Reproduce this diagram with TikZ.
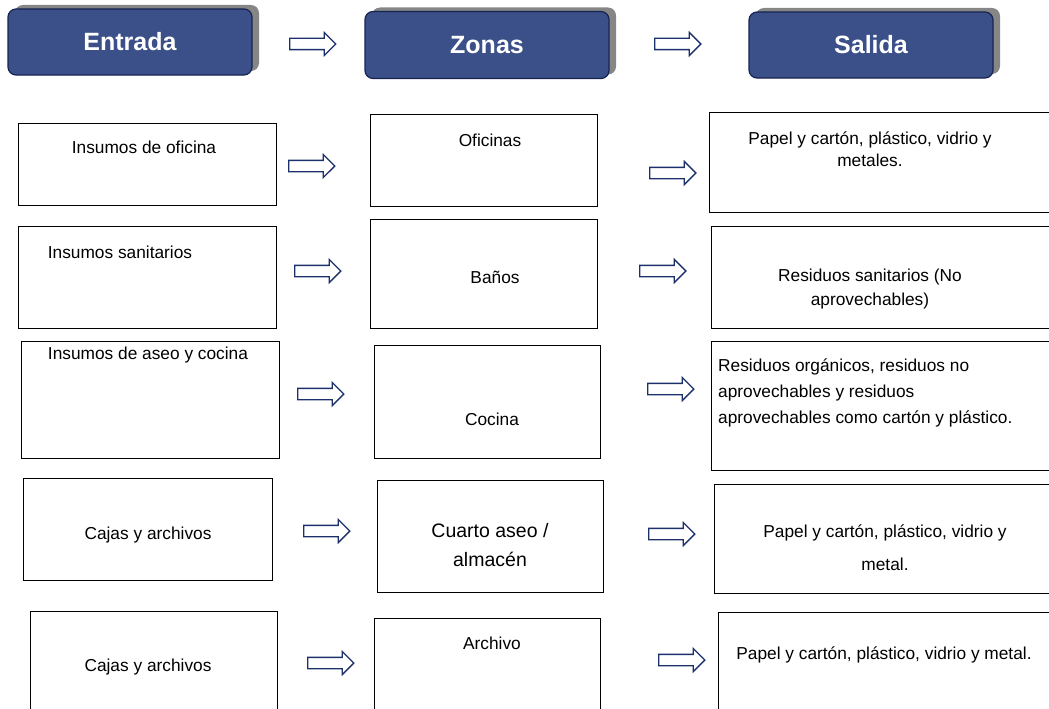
\documentclass[tikz,border=0pt]{standalone}
\usepackage{fontspec}
\setmainfont{Liberation Sans}
\usetikzlibrary{shapes.arrows,shadows}
\definecolor{headblue}{RGB}{59,80,136}
\definecolor{headline}{RGB}{22,36,82}
\definecolor{arrowline}{RGB}{28,48,108}
\tikzset{
  head/.style={draw=headline, line width=1.2pt, fill=headblue, rounded corners=8pt,
    minimum width=244pt, minimum height=66pt, text=white,
    font=\bfseries\fontsize{25}{30}\selectfont,
    general shadow={fill=gray!95, draw=none, shadow xshift=7pt, shadow yshift=4pt}},
  box/.style={draw, rectangle, line width=1.4pt, anchor=north west, inner sep=0pt},
  txt/.style={font=\fontsize{17.3}{22}\selectfont, inner sep=0pt},
  flecha/.style={draw=arrowline, fill=white, line width=1.3pt, shape=single arrow,
    minimum height=46pt, inner xsep=0pt, inner ysep=5pt, single arrow head extend=6pt,
    single arrow tip angle=90}
}
\begin{document}
\begin{tikzpicture}[x=1pt, y=-1pt]
            \useasboundingbox (0,0) rectangle (1049,709);
            \clip (0,0) rectangle (1049,709);
            % header blocks
            \node[head] (entrada) at (130,42) {Entrada};
            \node[head, minimum height=67pt] (zonas) at (487,45) {Zonas};
            \node[head] (salida) at (871,45) {Salida};
            \node[flecha] (h1) at (310,44) {};
            \node[flecha] (h2) at (675,44) {};

            % row 1
            \node[box, minimum width=258pt, minimum height=82pt] (in1) at (18,123) {};
            \node[box, minimum width=227pt, minimum height=92pt] (zo1) at (370,114) {};
            \node[box, minimum width=360pt, minimum height=100pt] (sa1) at (709,112) {};
            \node[txt] (tin1) at (144,147) {Insumos de oficina};
            \node[txt] (tzo1) at (490,140) {Oficinas};
            \node[txt, align=center] (tsa1) at (870,149) {Papel y cartón, plástico, vidrio y\\metales.};
            \node[flecha] (r1a) at (309,166) {};
            \node[flecha] (r1b) at (670,173) {};

            % row 2
            \node[box, minimum width=258pt, minimum height=102pt] (in2) at (18,226) {};
            \node[box, minimum width=227pt, minimum height=109pt] (zo2) at (370,219) {};
            \node[box, minimum width=360pt, minimum height=102pt] (sa2) at (711,226) {};
            \node[txt] (tin2) at (120,252) {Insumos sanitarios};
            \node[txt] (tzo2) at (495,277) {Baños};
            \node[txt, align=center, font=\fontsize{17.3}{24}\selectfont] (tsa2) at (870,289) {Residuos sanitarios (No\\aprovechables)};
            \node[flecha] (r2a) at (315,271) {};
            \node[flecha] (r2b) at (660,271) {};

            % row 3
            \node[box, minimum width=258pt, minimum height=117pt] (in3) at (21,341) {};
            \node[box, minimum width=226pt, minimum height=113pt] (zo3) at (374,345) {};
            \node[box, minimum width=360pt, minimum height=129pt] (sa3) at (711,341) {};
            \node[txt] (tin3) at (148,355) {Insumos de aseo y cocina};
            \node[txt] (tzo3) at (492,419) {Cocina};
            \node[txt, align=left, anchor=west, font=\fontsize{17.3}{26}\selectfont] (tsa3) at (718,393) {Residuos orgánicos, residuos no\\aprovechables y residuos\\aprovechables como cartón y plástico.};
            \node[flecha] (r3a) at (318,394) {};
            \node[flecha] (r3b) at (668,389) {};

            % row 4
            \node[box, minimum width=249pt, minimum height=102pt] (in4) at (23,478) {};
            \node[box, minimum width=226pt, minimum height=112pt] (zo4) at (377,480) {};
            \node[box, minimum width=360pt, minimum height=109pt] (sa4) at (714,484) {};
            \node[txt] (tin4) at (148,535) {Cajas y archivos};
            \node[txt, align=center, font=\fontsize{19.5}{29}\selectfont] (tzo4) at (490,545) {Cuarto aseo /\\almacén};
            \node[txt, align=center, font=\fontsize{17.3}{33}\selectfont] (tsa4) at (885,548) {Papel y cartón, plástico, vidrio y\\metal.};
            \node[flecha] (r4a) at (324,531) {};
            \node[flecha] (r4b) at (669,534) {};

            % row 5
            \node[box, minimum width=247pt, minimum height=120pt] (in5) at (30,611) {};
            \node[box, minimum width=226pt, minimum height=120pt] (zo5) at (374,618) {};
            \node[box, minimum width=360pt, minimum height=120pt] (sa5) at (718,612) {};
            \node[txt] (tin5) at (148,667) {Cajas y archivos};
            \node[txt] (tzo5) at (492,643) {Archivo};
            \node[txt] (tsa5) at (884,655) {Papel y cartón, plástico, vidrio y metal.};
            \node[flecha] (r5a) at (328,663) {};
            \node[flecha] (r5b) at (679,660) {};
        \end{tikzpicture}
\end{document}
